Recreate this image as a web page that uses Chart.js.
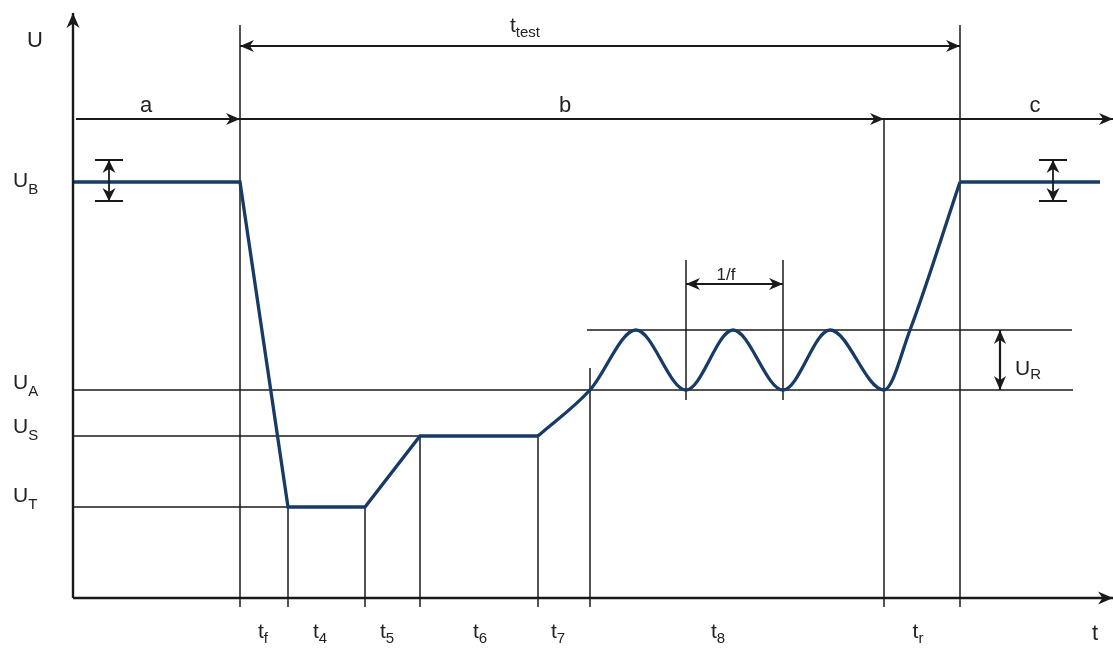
<!DOCTYPE html>
<html>
<head>
<meta charset="utf-8">
<script src="https://cdn.jsdelivr.net/npm/chart.js@4"></script>
<style>
  html, body { margin: 0; padding: 0; background: #fff; }
  canvas { display: block; }
</style>
</head>
<body>
<canvas id="pulse" width="1113" height="653"></canvas>
<script>
// ---- 1. DATA --------------------------------
// time axis in arbitrary units, voltage axis in arbitrary units (schematic)

// boundaries between phases: a | tf | t4 | t5 | t6 | t7 | t8 | tr | c
const edgeTimes = [16.7, 21.5, 29.2, 34.7, 46.5, 51.7, 81.1, 88.7];
const phaseSubs = ["f", "4", "5", "6", "7", "8", "r"];
const phaseLabelTimes = [19.0, 24.7, 31.4, 40.7, 48.5, 64.5, 84.5];

// voltage levels U_B, U_A, U_S, U_T
const levelSubs = ["B", "A", "S", "T"];
const levelValues = [41.6, 20.8, 16.2, 9.1];
const rippleTop = 26.8; // U_A + U_R

// trace: drop, hold, ramp to U_S, hold
const dropTimes = [0, 16.7, 21.5, 29.2, 34.7, 46.5];
const dropVolts = [41.6, 41.6, 9.1, 9.1, 16.2, 16.2];
// ramp to U_A, ripple, recovery
const waveTimes = [46.5, 51.7, 56.3, 61.3, 66.0, 71.0, 75.7, 81.1, 83.7, 88.7];
const waveVolts = [16.2, 20.8, 26.8, 20.8, 26.8, 20.8, 26.8, 20.8, 26.8, 41.6];
// back at U_B
const endTimes = [88.7, 102.7];
const endVolts = [41.6, 41.6];

// one ripple period (1/f)
const periodTimes = [61.3, 71.0];

// ---- 2. HELPERS -----------------------------
const pts = (xs, ys) => xs.map((x, i) => ({ x, y: ys[i] }));
const TRACE = "#173a66";
const INK = "#1a1a1a";
const FONT = '"Liberation Sans", Arial, sans-serif';

const [UB, UA, US, UT] = levelValues;
const topMark = 57.3, abcRow = 47.9, ttestRow = 55.2;

// thin guide lines built from the levels / edges
const guides = [
  [{ x: 0, y: UA }, { x: 100.0, y: UA }],
  [{ x: 0, y: US }, { x: edgeTimes[4], y: US }],
  [{ x: 0, y: UT }, { x: edgeTimes[1], y: UT }],
  [{ x: 51.4, y: rippleTop }, { x: 99.9, y: rippleTop }],
];
const edgeTops = [topMark, UT, UT, US, US, UA + 2.2, abcRow, topMark];
edgeTimes.forEach((t, i) => guides.push([{ x: t, y: -0.9 }, { x: t, y: edgeTops[i] }]));
periodTimes.forEach(t => guides.push([{ x: t, y: UA - 1.0 }, { x: t, y: 33.8 }]));

const guideSets = guides.map(g => ({
  data: g, borderColor: INK, borderWidth: 1.5, pointRadius: 0, order: 2,
}));

function head(ctx, x, y, ang, len, half) {
  len = len || 14; half = half || 6;
  ctx.save();
  ctx.translate(x, y);
  ctx.rotate(ang);
  ctx.beginPath();
  ctx.moveTo(0, 0);
  ctx.lineTo(-len, -half);
  ctx.lineTo(-len * 0.7, 0);
  ctx.lineTo(-len, half);
  ctx.closePath();
  ctx.fill();
  ctx.restore();
}

function arrow(ctx, x0, y0, x1, y1, start, end, w, len, half) {
  ctx.lineWidth = w || 1.8;
  ctx.beginPath();
  ctx.moveTo(x0, y0);
  ctx.lineTo(x1, y1);
  ctx.stroke();
  const a = Math.atan2(y1 - y0, x1 - x0);
  if (end) head(ctx, x1, y1, a, len, half);
  if (start) head(ctx, x0, y0, a + Math.PI, len, half);
}

function label(ctx, main, sub, x, y, align, size, subSize, drop) {
  size = size || 21; subSize = subSize || 15; drop = drop == null ? 6 : drop;
  ctx.font = size + "px " + FONT;
  const w1 = ctx.measureText(main).width;
  ctx.font = subSize + "px " + FONT;
  const w2 = sub ? ctx.measureText(sub).width : 0;
  const left = align === "center" ? x - (w1 + w2) / 2 : x;
  ctx.textAlign = "left";
  ctx.textBaseline = "alphabetic";
  ctx.font = size + "px " + FONT;
  ctx.fillText(main, left, y);
  if (sub) {
    ctx.font = subSize + "px " + FONT;
    ctx.fillText(sub, left + w1, y + drop);
  }
}

// ---- 3. ANNOTATIONS -------------------------
const annotations = {
  id: "annotations",
  afterDatasetsDraw(chart) {
    const { ctx, scales: { x, y } } = chart;
    const X = v => x.getPixelForValue(v);
    const Y = v => y.getPixelForValue(v);
    ctx.save();
    ctx.strokeStyle = INK;
    ctx.fillStyle = INK;

    // axes
    arrow(ctx, X(0), Y(0), X(0), Y(58.5), false, true, 2.4, 15, 6.5);
    arrow(ctx, X(0), Y(0), X(104.0), Y(0), false, true, 2.4, 15, 6.5);

    // t_test, a, b, c
    arrow(ctx, X(edgeTimes[0]), Y(ttestRow), X(edgeTimes[7]), Y(ttestRow), true, true, 2.2);
    arrow(ctx, X(0.3), Y(abcRow), X(edgeTimes[0]), Y(abcRow), false, true, 2.2);
    arrow(ctx, X(edgeTimes[0]), Y(abcRow), X(edgeTimes[6]), Y(abcRow), false, true, 2.2);
    arrow(ctx, X(edgeTimes[6]), Y(abcRow), X(104.0), Y(abcRow), false, true, 2.2);

    // 1/f
    arrow(ctx, X(periodTimes[0]), Y(31.4), X(periodTimes[1]), Y(31.4), true, true, 2.2);
    // U_R
    arrow(ctx, X(92.7), Y(rippleTop), X(92.7), Y(UA), true, true, 2.2);

    // U_B tolerance marks
    [3.6, 98.0].forEach(t => {
      ctx.lineWidth = 1.8;
      ctx.beginPath();
      ctx.moveTo(X(t - 1.4), Y(UB + 2.2)); ctx.lineTo(X(t + 1.4), Y(UB + 2.2));
      ctx.moveTo(X(t - 1.4), Y(UB - 1.9)); ctx.lineTo(X(t + 1.4), Y(UB - 1.9));
      ctx.stroke();
      arrow(ctx, X(t), Y(UB + 2.2), X(t), Y(UB - 1.9), true, true, 1.8, 13, 6.5);
    });

    // texts
    ctx.fillStyle = "#222";
    label(ctx, "U", "", X(-3.8), Y(55.1), "center", 22);
    const levelOffsets = [5, -1, -3, -5];
    levelSubs.forEach((s, i) => label(ctx, "U", s, X(-6.0), Y(levelValues[i]) + levelOffsets[i], "left", 21, 15, 7));
    phaseSubs.forEach((s, i) => label(ctx, "t", s, X(phaseLabelTimes[i]), Y(-4.0), "center", 21, 15, 5));
    label(ctx, "t", "", X(102.2), Y(-4.2), "center", 22);
    label(ctx, "t", "test", X(45.2), Y(56.6), "center", 21, 15, 5);
    label(ctx, "a", "", X(7.3), Y(48.6), "center", 22);
    label(ctx, "b", "", X(49.2), Y(48.6), "center", 22);
    label(ctx, "c", "", X(96.2), Y(48.6), "center", 22);
    label(ctx, "1/f", "", X(65.3), Y(31.8), "center", 17);
    label(ctx, "U", "R", X(94.2), Y(22.3), "left", 21, 15, 4);

    ctx.restore();
  },
};

// ---- 4. CHART -------------------------------
new Chart(document.getElementById("pulse").getContext("2d"), {
  type: "line",
  data: {
    datasets: [
      { data: pts(dropTimes, dropVolts), borderColor: TRACE, borderWidth: 3.3, pointRadius: 0, order: 0 },
      { data: pts(waveTimes, waveVolts), borderColor: TRACE, borderWidth: 3.3, pointRadius: 0,
        cubicInterpolationMode: "monotone", order: 0 },
      { data: pts(endTimes, endVolts), borderColor: TRACE, borderWidth: 3.3, pointRadius: 0, order: 0 },
      ...guideSets,
    ],
  },
  options: {
    responsive: false,
    animation: false,
    events: [],
    layout: { padding: 0 },
    plugins: { legend: { display: false }, tooltip: { enabled: false } },
    scales: {
      x: { type: "linear", min: -7.3, max: 104.0, display: false },
      y: { type: "linear", min: -5.5, max: 59.8, display: false },
    },
  },
  plugins: [annotations],
});
</script>
</body>
</html>
